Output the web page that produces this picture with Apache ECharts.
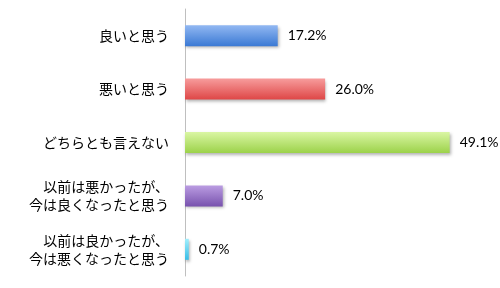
<!DOCTYPE html>
<html>
<head>
<meta charset="utf-8">
<script src="https://cdn.jsdelivr.net/npm/echarts@6/dist/echarts.min.js"></script>
<style>html,body{margin:0;padding:0;background:#fff}#c{width:500px;height:288px}</style>
</head>
<body>
<div id="c"></div>
<script>
var categories = ['良いと思う', '悪いと思う', 'どちらとも言えない', '以前は悪かったが、\n今は良くなったと思う', '以前は良かったが、\n今は悪くなったと思う'];
var values = [17.2, 26.0, 49.1, 7.0, 0.7];
var topColors = ['#92b8f2', '#f79c9c', '#daf6a4', '#bb9de2', '#a2effd'];
var bottomColors = ['#3a79d4', '#de4646', '#9cd24a', '#7852ae', '#38bde6'];

var chart = echarts.init(document.getElementById('c'), null, {renderer: 'canvas'});
var data = values.map(function (v, i) {
  return {
    value: v,
    itemStyle: {
      color: new echarts.graphic.LinearGradient(0, 0, 0, 1, [
        {offset: 0, color: topColors[i]},
        {offset: 1, color: bottomColors[i]}
      ])
    }
  };
});
chart.setOption({
  animation: false,
  grid: {left: 185, top: 9, height: 267, width: 269.5},
  xAxis: {type: 'value', min: 0, max: 50, show: false},
  yAxis: {
    type: 'category',
    inverse: true,
    data: categories,
    axisLine: {lineStyle: {color: '#bfbfbf', width: 1}},
    axisTick: {length: 5, lineStyle: {color: '#bfbfbf'}},
    axisLabel: {
      margin: 16,
      fontSize: 14,
      lineHeight: 18,
      color: '#000',
      fontFamily: '"Noto Sans CJK JP", sans-serif',
      align: 'right'
    }
  },
  series: [{
    type: 'bar',
    data: data,
    barWidth: 21,
    itemStyle: {
      shadowColor: 'rgba(0,0,0,0.3)',
      shadowBlur: 3,
      shadowOffsetX: 1,
      shadowOffsetY: 2
    },
    label: {
      show: true,
      position: 'right',
      distance: 10,
      fontSize: 14,
      color: '#000',
      fontFamily: 'Lato, sans-serif',
      formatter: function (p) { return p.value.toFixed(1) + '%'; }
    }
  }]
});
</script>
</body>
</html>
